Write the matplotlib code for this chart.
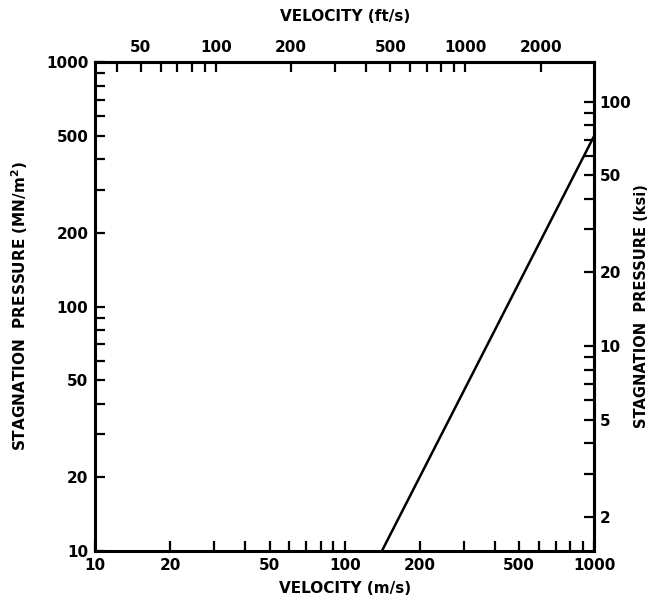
import numpy as np
import matplotlib
matplotlib.use("Agg")
import matplotlib.pyplot as plt
from matplotlib.ticker import FixedLocator, FixedFormatter, NullFormatter

#---------/Data/------------------------------#

#Stagnation pressure line (velocity m/s, pressure MN/m^2)
velocity = [141, 1000]
pressure = [10, 500]

#Bottom / left axis ticks
x_ticks = [10, 20, 50, 100, 200, 500, 1000]
x_labels = ["10", "20", "50", "100", "200", "500", "1000"]
y_ticks = [10, 20, 50, 100, 200, 500, 1000]
y_labels = ["10", "20", "50", "100", "200", "500", "1000"]

#Top axis (ft/s)
ft_ticks = [50, 100, 200, 500, 1000, 2000]
ft_labels = ["50", "100", "200", "500", "1000", "2000"]
ft_minor = [40, 60, 70, 80, 90, 300, 400, 600, 700, 800, 900]

#Right axis (ksi)
ksi_ticks = [2, 5, 10, 20, 50, 100]
ksi_labels = ["2", "5", "10", "20", "50", "100"]
ksi_minor = [3, 4, 6, 7, 8, 9, 30, 40, 60, 70, 80, 90]

#Unit conversions
M_TO_FT = 3.281
MN_TO_KSI = 1 / 6.895

#---------/Plot/------------------------------#

plt.rcParams["font.family"] = "DejaVu Sans"
plt.rcParams["font.weight"] = "bold"
plt.rcParams["axes.labelweight"] = "bold"
plt.rcParams["mathtext.default"] = "bf"

fig, ax = plt.subplots(figsize=(6.48, 6.10), dpi=100)
fig.subplots_adjust(left=0.147, right=0.917, bottom=0.097, top=0.898)

ax.plot(velocity, pressure, color="black", lw=1.8)

ax.set_xscale("log")
ax.set_yscale("log")
ax.set_xlim(10, 1000)
ax.set_ylim(10, 1000)

tick_kw = dict(direction="in", length=7, width=1.6, labelsize=11, pad=5)

ax.xaxis.set_major_locator(FixedLocator(x_ticks))
ax.xaxis.set_major_formatter(FixedFormatter(x_labels))
ax.xaxis.set_minor_formatter(NullFormatter())
ax.yaxis.set_major_locator(FixedLocator(y_ticks))
ax.yaxis.set_major_formatter(FixedFormatter(y_labels))
ax.yaxis.set_minor_formatter(NullFormatter())
ax.tick_params(which="both", **tick_kw)

for s in ax.spines.values():
    s.set_linewidth(2.2)

ax.set_xlabel("VELOCITY (m/s)", fontsize=11, labelpad=6)
ax.set_ylabel("STAGNATION  PRESSURE (MN/m$^2$)", fontsize=11)
ax.yaxis.set_label_coords(-0.13, 0.5)

#Top axis in ft/s
top = ax.secondary_xaxis("top", functions=(lambda v: v * M_TO_FT, lambda v: v / M_TO_FT))
top.xaxis.set_major_locator(FixedLocator(ft_ticks))
top.xaxis.set_major_formatter(FixedFormatter(ft_labels))
top.xaxis.set_minor_locator(FixedLocator(ft_minor))
top.xaxis.set_minor_formatter(NullFormatter())
top.tick_params(which="both", **tick_kw)
top.spines["top"].set_linewidth(2.2)
top.set_xlabel("VELOCITY (ft/s)", fontsize=11, labelpad=14)

#Right axis in ksi
right = ax.secondary_yaxis("right", functions=(lambda p: p * MN_TO_KSI, lambda p: p / MN_TO_KSI))
right.yaxis.set_major_locator(FixedLocator(ksi_ticks))
right.yaxis.set_major_formatter(FixedFormatter(ksi_labels))
right.yaxis.set_minor_locator(FixedLocator(ksi_minor))
right.yaxis.set_minor_formatter(NullFormatter())
right.tick_params(which="both", direction="in", length=7, width=1.6, labelsize=11, pad=4)
right.spines["right"].set_linewidth(2.2)
ax.text(1.094, 0.5, "STAGNATION  PRESSURE (ksi)", transform=ax.transAxes,
        rotation=90, ha="center", va="center", fontsize=10.5, fontweight="bold")

fig.savefig("out.png", dpi=100)
